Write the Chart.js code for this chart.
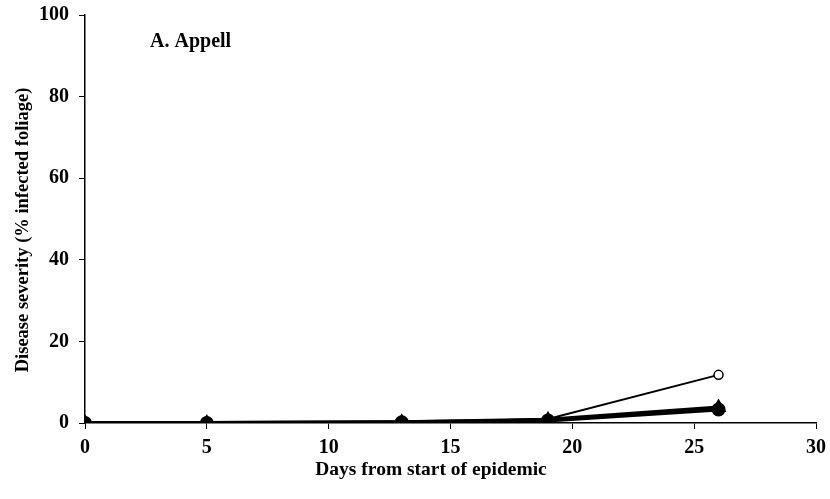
<!DOCTYPE html>
<html>
<head>
<meta charset="utf-8">
<script src="https://cdn.jsdelivr.net/npm/chart.js@4.4.1/dist/chart.umd.min.js"></script>
<style>
  html, body { margin: 0; padding: 0; background: #fff; }
  #wrap { width: 830px; height: 499px; }
</style>
</head>
<body>
<div id="wrap"><canvas id="chart" width="830" height="499"></canvas></div>
<script>
// days sampled
const days = [0, 5, 13, 19, 26];
// disease severity (%) per treatment
const openCircle = [0, 0, 0.1, 1.0, 11.8];
const filledTriangle = [0, 0, 0.2, 0.8, 3.8];
const filledCircle = [0, 0, 0.2, 0.6, 3.3];

const xTicks = [0, 5, 10, 15, 20, 25, 30];
const yTicks = [0, 20, 40, 60, 80, 100];
const panelLabel = "A. Appell";
const xTitle = "Days from start of epidemic";
const yTitle = "Disease severity (% infected foliage)";

const toPts = arr => days.map((d, i) => ({ x: d, y: arr[i] }));

const serif = "'Liberation Serif', 'Times New Roman', serif";

// panel label and axis titles (placed like the original, slightly off-centre)
const texts = {
  id: 'texts',
  afterDraw(c) {
    const ctx = c.ctx;
    ctx.save();
    ctx.fillStyle = "#000";
    ctx.textBaseline = "middle";
    ctx.font = "bold 20px " + serif;
    ctx.textAlign = "left";
    ctx.fillText(panelLabel, 150, 42);
    ctx.textAlign = "center";
    ctx.font = "bold 19.5px " + serif;
    ctx.fillText(xTitle, 431, 470);
    ctx.translate(23, 230);
    ctx.rotate(-Math.PI / 2);
    ctx.font = "bold 18.5px " + serif;
    ctx.fillText(yTitle, 0, 0);
    ctx.restore();
  }
};

const ctx = document.getElementById("chart").getContext("2d");
new Chart(ctx, {
  type: 'line',
  data: {
    datasets: [
      { label: 'open', order: 3, data: toPts(openCircle), borderColor: '#000', borderWidth: 2,
        pointStyle: 'circle', pointRadius: 4.5, pointBackgroundColor: '#fff', pointBorderColor: '#000', pointBorderWidth: 1.5 },
      { label: 'triangle', order: 2, data: toPts(filledTriangle), borderColor: '#000', borderWidth: 4,
        pointStyle: 'triangle', pointRadius: 5, pointBackgroundColor: '#000', pointBorderColor: '#000' },
      { label: 'filled', order: 1, data: toPts(filledCircle), borderColor: '#000', borderWidth: 4,
        pointStyle: 'circle', pointRadius: 5, pointBackgroundColor: '#000', pointBorderColor: '#000' }
    ]
  },
  options: {
    responsive: false,
    animation: false,
    layout: { padding: { top: 15, right: 14, bottom: 0, left: 0 } },
    plugins: { legend: { display: false }, tooltip: { enabled: false } },
    scales: {
      x: {
        type: 'linear', min: 0, max: 30,
        afterBuildTicks: a => { a.ticks = xTicks.map(v => ({ value: v })); },
        afterFit: a => { a.height = 499 - 423; a.paddingLeft = 0; a.paddingRight = 0; },
        grid: { drawOnChartArea: false, color: '#000', tickLength: 6, tickWidth: 1 },
        border: { color: '#000', width: 1.5 },
        ticks: { color: '#000', padding: 7, font: { family: serif, weight: 'bold', size: 20 } }
      },
      y: {
        min: 0, max: 100,
        afterBuildTicks: a => { a.ticks = yTicks.map(v => ({ value: v })); },
        afterFit: a => { a.width = 85; a.paddingTop = 0; a.paddingBottom = 0; },
        grid: { drawOnChartArea: false, color: '#000', tickLength: 6, tickWidth: 1 },
        border: { color: '#000', width: 1.5 },
        ticks: { color: '#000', padding: 10, font: { family: serif, weight: 'bold', size: 20 } }
      }
    }
  },
  plugins: [texts]
});
</script>
</body>
</html>
